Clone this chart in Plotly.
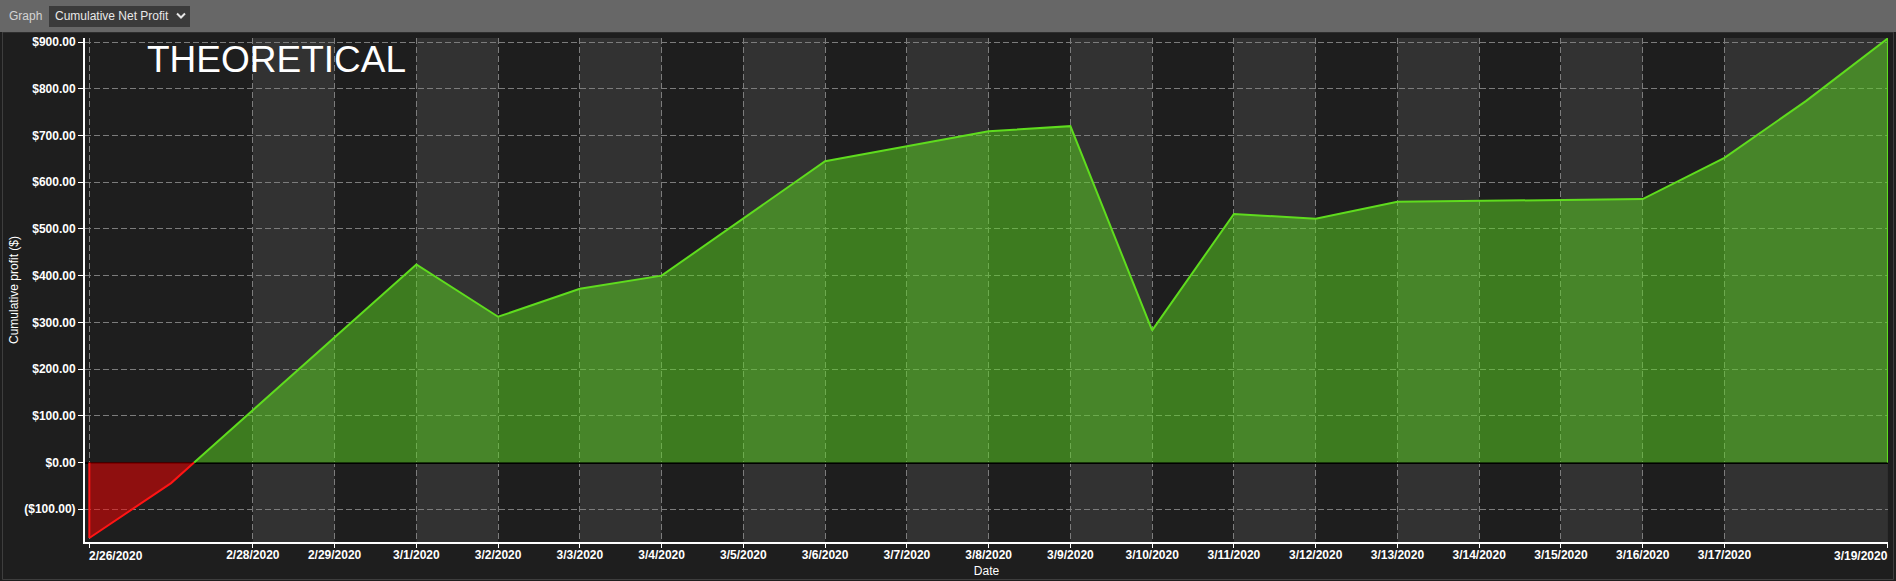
import plotly.graph_objects as go
import pandas as pd

# ---------------- data ----------------
dates = ["2020-02-26", "2020-02-27", "2020-02-28", "2020-02-29", "2020-03-01",
         "2020-03-02", "2020-03-03", "2020-03-04", "2020-03-05", "2020-03-06",
         "2020-03-07", "2020-03-08", "2020-03-09", "2020-03-10", "2020-03-11",
         "2020-03-12", "2020-03-13", "2020-03-14", "2020-03-15", "2020-03-16",
         "2020-03-17", "2020-03-18", "2020-03-19"]
cum_profit = [-161.5, -44, 112, 268, 424,
              312, 372, 400, 523, 645,
              677, 709, 720, 283, 532,
              522, 558, 560, 562, 564,
              652, 774, 908]

x_tick_dates = ["2020-02-26", "2020-02-28", "2020-02-29", "2020-03-01", "2020-03-02",
                "2020-03-03", "2020-03-04", "2020-03-05", "2020-03-06", "2020-03-07",
                "2020-03-08", "2020-03-09", "2020-03-10", "2020-03-11", "2020-03-12",
                "2020-03-13", "2020-03-14", "2020-03-15", "2020-03-16", "2020-03-17",
                "2020-03-19"]
x_tick_labels = ["2/26/2020", "2/28/2020", "2/29/2020", "3/1/2020", "3/2/2020",
                 "3/3/2020", "3/4/2020", "3/5/2020", "3/6/2020", "3/7/2020",
                 "3/8/2020", "3/9/2020", "3/10/2020", "3/11/2020", "3/12/2020",
                 "3/13/2020", "3/14/2020", "3/15/2020", "3/16/2020", "3/17/2020",
                 "3/19/2020"]
y_tick_values = [-100, 0, 100, 200, 300, 400, 500, 600, 700, 800, 900]
y_tick_labels = ["($100.00)", "$0.00", "$100.00", "$200.00", "$300.00", "$400.00",
                 "$500.00", "$600.00", "$700.00", "$800.00", "$900.00"]

# ---------------- layout constants ----------------
W, H = 1896, 581
L, R, T, B = 85, 1888, 38, 542
FONT = "Liberation Sans, Arial, sans-serif"
BG = "#1e1e1e"
BAND = "#323232"
GRID = "#7c7c7c"
GREEN_LINE = "#5fdc1e"
GREEN_FILL = "rgba(92,216,32,0.5)"
RED_LINE = "#ff1414"
RED_FILL = "rgba(255,0,0,0.5)"
TICKFONT = dict(family=FONT, size=12, color="#ffffff", weight="bold")


def xp(px):
    return (px - L) / (R - L)


def yp(py):
    return (B - py) / (B - T)


d = pd.to_datetime(dates)
v = cum_profit

# split at zero crossing
i = next(k for k in range(len(v) - 1) if v[k] < 0 <= v[k + 1])
t = v[i] / (v[i] - v[i + 1])
xc = d[i] + (d[i + 1] - d[i]) * t

neg_x = list(d[:i + 1]) + [xc]
neg_y = v[:i + 1] + [0]
pos_x = [xc] + list(d[i + 1:])
pos_y = [0] + v[i + 1:]

fig = go.Figure()
fig.add_trace(go.Scatter(x=neg_x, y=neg_y, mode="lines", fill="tozeroy",
                         fillcolor=RED_FILL, line=dict(color=RED_LINE, width=2),
                         hoverinfo="skip", showlegend=False))
fig.add_trace(go.Scatter(x=pos_x, y=pos_y, mode="lines", fill="tozeroy",
                         fillcolor=GREEN_FILL, line=dict(color=GREEN_LINE, width=2),
                         hoverinfo="skip", showlegend=False))
# vertical outline edges of the area
fig.add_trace(go.Scatter(x=[d[0], d[0]], y=[0, v[0]], mode="lines",
                         line=dict(color=RED_LINE, width=2), showlegend=False))
fig.add_trace(go.Scatter(x=[d[-1], d[-1]], y=[0, v[-1]], mode="lines",
                         line=dict(color=GREEN_LINE, width=2), showlegend=False))

shapes = []
tick_ts = pd.to_datetime(x_tick_dates)
for k in range(len(tick_ts) - 1):
    if k % 2 == 1:
        shapes.append(dict(type="rect", xref="x", yref="paper",
                           x0=tick_ts[k], x1=tick_ts[k + 1], y0=0, y1=1,
                           fillcolor=BAND, line=dict(width=0), layer="below"))

# outer frame / header
shapes.append(dict(type="rect", xref="paper", yref="paper",
                   x0=xp(2.5), x1=xp(1893.5), y0=yp(579.5), y1=yp(32),
                   fillcolor="rgba(0,0,0,0)", line=dict(color="#3e3e3e", width=1),
                   layer="below"))
shapes.append(dict(type="rect", xref="paper", yref="paper",
                   x0=xp(0), x1=xp(W), y0=yp(32), y1=yp(0),
                   fillcolor="#676767", line=dict(width=0), layer="above"))
shapes.append(dict(type="rect", xref="paper", yref="paper",
                   x0=xp(49), x1=xp(190), y0=yp(27), y1=yp(6),
                   fillcolor="#3b3b3b", line=dict(width=0), layer="above"))
shapes.append(dict(type="path", xref="paper", yref="paper",
                   path=f"M {xp(177)},{yp(13.5)} L {xp(181)},{yp(17.5)} L {xp(185)},{yp(13.5)}",
                   line=dict(color="#e6e6e6", width=2), layer="above"))

# x tick labels: inner ones through the axis, the two end labels kept inside the plot
axis_ticktext = [""] + x_tick_labels[1:-1] + [""]

annotations = [
    dict(text="Graph", xref="paper", yref="paper", x=xp(7), y=yp(16.5),
         xanchor="left", yanchor="middle", showarrow=False,
         font=dict(family=FONT, size=12, color="#d4d4d4")),
    dict(text="Cumulative Net Profit", xref="paper", yref="paper", x=xp(52.5), y=yp(16.5),
         xanchor="left", yanchor="middle", showarrow=False,
         font=dict(family=FONT, size=12, color="#e8e8e8")),
    dict(text="THEORETICAL", xref="paper", yref="paper", x=xp(144.5), y=yp(60),
         xanchor="left", yanchor="middle", showarrow=False,
         font=dict(family=FONT, size=37, color="#ffffff")),
    dict(text=x_tick_labels[0], xref="x", yref="paper", x=tick_ts[0], y=yp(556),
         xanchor="left", yanchor="middle", xshift=-2, showarrow=False,
         font=TICKFONT),
    dict(text=x_tick_labels[-1], xref="x", yref="paper", x=tick_ts[-1], y=yp(556),
         xanchor="right", yanchor="middle", xshift=2, showarrow=False,
         font=TICKFONT),
]

fig.update_layout(
    width=W, height=H,
    margin=dict(l=L, r=W - R, t=T, b=H - B, pad=0),
    paper_bgcolor=BG, plot_bgcolor=BG,
    font=dict(family=FONT, color="#ffffff"),
    shapes=shapes, annotations=annotations,
    showlegend=False,
    xaxis=dict(
        type="date", automargin=False,
        range=[d[0] - pd.Timedelta(hours=1.27), d[-1] + pd.Timedelta(minutes=1)],
        tickvals=tick_ts, ticktext=axis_ticktext,
        ticks="outside", ticklen=4, tickcolor="#ffffff", tickwidth=1,
        ticklabelstandoff=-3,
        showline=True, linecolor="#ffffff", linewidth=2,
        showgrid=True, gridcolor=GRID, griddash="6px,3px", gridwidth=1,
        zeroline=False,
        tickfont=TICKFONT,
        title=dict(text="Date", standoff=5,
                   font=dict(family=FONT, size=12, color="#ffffff")),
    ),
    yaxis=dict(
        automargin=False,
        range=[-170, 908.6],
        tickvals=y_tick_values, ticktext=y_tick_labels,
        ticks="outside", ticklen=5, tickcolor="#ffffff", tickwidth=1,
        showline=True, linecolor="#ffffff", linewidth=2,
        showgrid=True, gridcolor=GRID, griddash="6px,3px", gridwidth=1,
        zeroline=True, zerolinecolor="#000000", zerolinewidth=2,
        tickfont=TICKFONT,
        title=dict(text="Cumulative profit ($)", standoff=3,
                   font=dict(family=FONT, size=12, color="#ffffff")),
    ),
)

fig.write_html("out.html", config={"displayModeBar": False},
               post_script="document.body.style.margin='0';document.body.style.background='#1e1e1e';")
